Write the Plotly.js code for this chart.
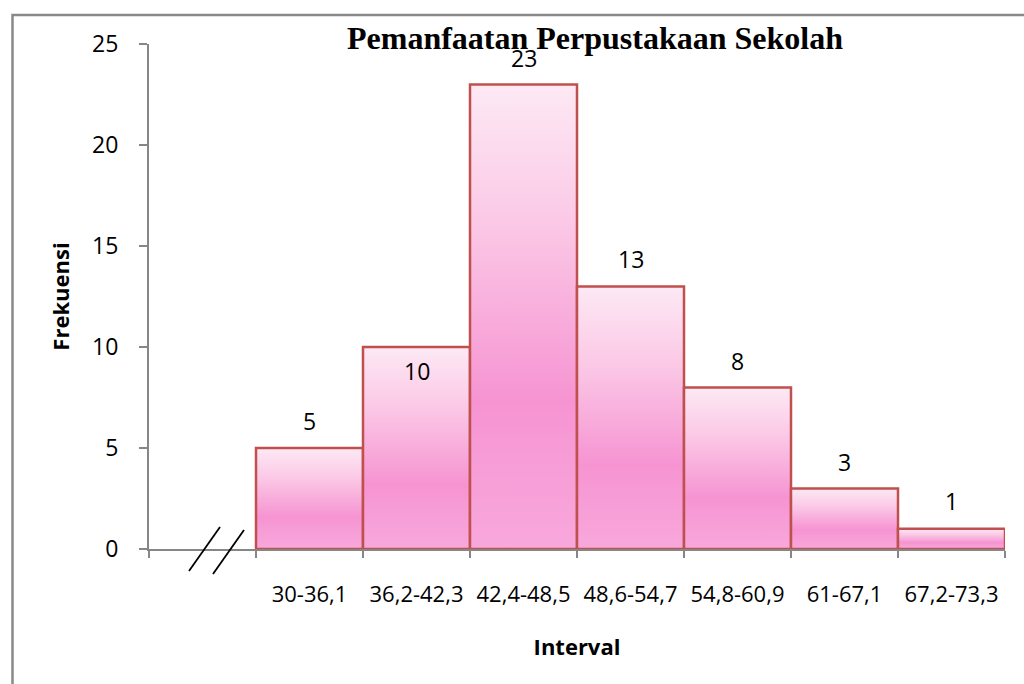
<!DOCTYPE html>
<html>
<head>
<meta charset="utf-8">
<script src="https://cdn.plot.ly/plotly-3.0.1.min.js"></script>
<style>
  html, body { margin: 0; padding: 0; background: #ffffff; }
  #chart { width: 1024px; height: 684px; }
</style>
</head>
<body>
<div id="chart"></div>
<script>
// ---- data ----
const categories = [" ", "30-36,1", "36,2-42,3", "42,4-48,5", "48,6-54,7", "54,8-60,9", "61-67,1", "67,2-73,3"];
const frequencies = [null, 5, 10, 23, 13, 8, 3, 1];
const chartTitle = "Pemanfaatan Perpustakaan Sekolah";
const xTitle = "Interval";
const yTitle = "Frekuensi";

// label vertical offsets in px (styling only)
const labelShift = [0, 27, -24, 26, 27, 26, 26, 28];

const baseFont = "'Open Sans', 'Noto Sans', sans-serif";

const trace = {
  type: "bar",
  x: categories,
  y: frequencies,
  marker: {
    color: "#f8a6da",
    line: { color: "#c0504d", width: 2.5 }
  },
  hoverinfo: "x+y"
};

const annotations = [];
categories.forEach((c, i) => {
  if (frequencies[i] === null) return;
  annotations.push({
    x: c, y: frequencies[i], xref: "x", yref: "y",
    text: String(frequencies[i]),
    showarrow: false,
    yanchor: "middle",
    yshift: labelShift[i],
    font: { family: baseFont, size: 23, color: "#000000" }
  });
});

const axisGray = "#868686";

const layout = {
  width: 1024, height: 684,
  margin: { l: 149, r: 19, t: 44, b: 135, pad: 0 },
  paper_bgcolor: "#ffffff",
  plot_bgcolor: "#ffffff",
  showlegend: false,
  bargap: 0,
  title: {
    text: "<b>" + chartTitle + "</b>",
    font: { family: "'Liberation Serif', 'Times New Roman', serif", size: 32, color: "#000000" },
    x: 595 / 1024, xanchor: "center",
    xref: "container", yref: "container",
    y: 1 - 27 / 684, yanchor: "top"
  },
  xaxis: {
    type: "category",
    range: [-0.5, 7.5],
    showline: true, linecolor: axisGray, linewidth: 2,
    ticks: "outside", ticklen: 7, tickcolor: axisGray, tickwidth: 2,
    tickson: "boundaries",
    tickangle: 0,
    showgrid: false, zeroline: false,
    ticklabelstandoff: 25,
    tickfont: { family: baseFont, size: 22, color: "#000000" },
    title: {
      text: "<b>" + xTitle + "</b>",
      font: { family: baseFont, size: 22, color: "#000000" },
      standoff: 32
    }
  },
  yaxis: {
    range: [0, 25],
    dtick: 5,
    showline: true, linecolor: axisGray, linewidth: 2,
    ticks: "outside", ticklen: 8, tickcolor: axisGray, tickwidth: 2,
    showgrid: false, zeroline: false,
    ticklabelstandoff: 16,
    tickfont: { family: baseFont, size: 23, color: "#000000" },
    title: {
      text: "<b>" + yTitle + "</b>",
      font: { family: baseFont, size: 22, color: "#000000" },
      standoff: 16
    }
  },
  annotations: annotations,
  shapes: [
    // outer frame (decoration)
    { type: "rect", xref: "paper", yref: "paper",
      x0: (12.5 - 149) / 856, x1: (1030 - 149) / 856,
      y0: (549 - 695) / 505, y1: (549 - 15) / 505,
      line: { color: "#898989", width: 2.5 }, fillcolor: "rgba(0,0,0,0)", layer: "below" },
    // axis break marks
    { type: "line", xref: "paper", yref: "paper",
      x0: (189 - 149) / 856, y0: (549 - 571) / 505,
      x1: (220 - 149) / 856, y1: (549 - 527) / 505,
      line: { color: "#000000", width: 1.8 } },
    { type: "line", xref: "paper", yref: "paper",
      x0: (213 - 149) / 856, y0: (549 - 574) / 505,
      x1: (244 - 149) / 856, y1: (549 - 530) / 505,
      line: { color: "#000000", width: 1.8 } }
  ]
};

function applyGradient(gd) {
  const svg = gd.querySelector("svg.main-svg");
  if (!svg) return;
  const ns = "http://www.w3.org/2000/svg";
  let defs = svg.querySelector("defs");
  if (!defs) { defs = document.createElementNS(ns, "defs"); svg.insertBefore(defs, svg.firstChild); }
  if (!svg.querySelector("#pinkBarGrad")) {
    const g = document.createElementNS(ns, "linearGradient");
    g.setAttribute("id", "pinkBarGrad");
    g.setAttribute("x1", "0"); g.setAttribute("y1", "0");
    g.setAttribute("x2", "0"); g.setAttribute("y2", "1");
    const stops = [[0, "#fde9f4"], [0.3, "#fbc8e6"], [0.68, "#f694d2"], [1, "#f8a8dc"]];
    stops.forEach(s => {
      const st = document.createElementNS(ns, "stop");
      st.setAttribute("offset", s[0]);
      st.setAttribute("stop-color", s[1]);
      g.appendChild(st);
    });
    defs.appendChild(g);
  }
  gd.querySelectorAll(".barlayer .point path").forEach(p => {
    p.style.fill = "url(#pinkBarGrad)";
  });
}

Plotly.newPlot("chart", [trace], layout, { displayModeBar: false, staticPlot: true }).then(gd => {
  applyGradient(gd);
  gd.on("plotly_afterplot", () => applyGradient(gd));
});
</script>
</body>
</html>
